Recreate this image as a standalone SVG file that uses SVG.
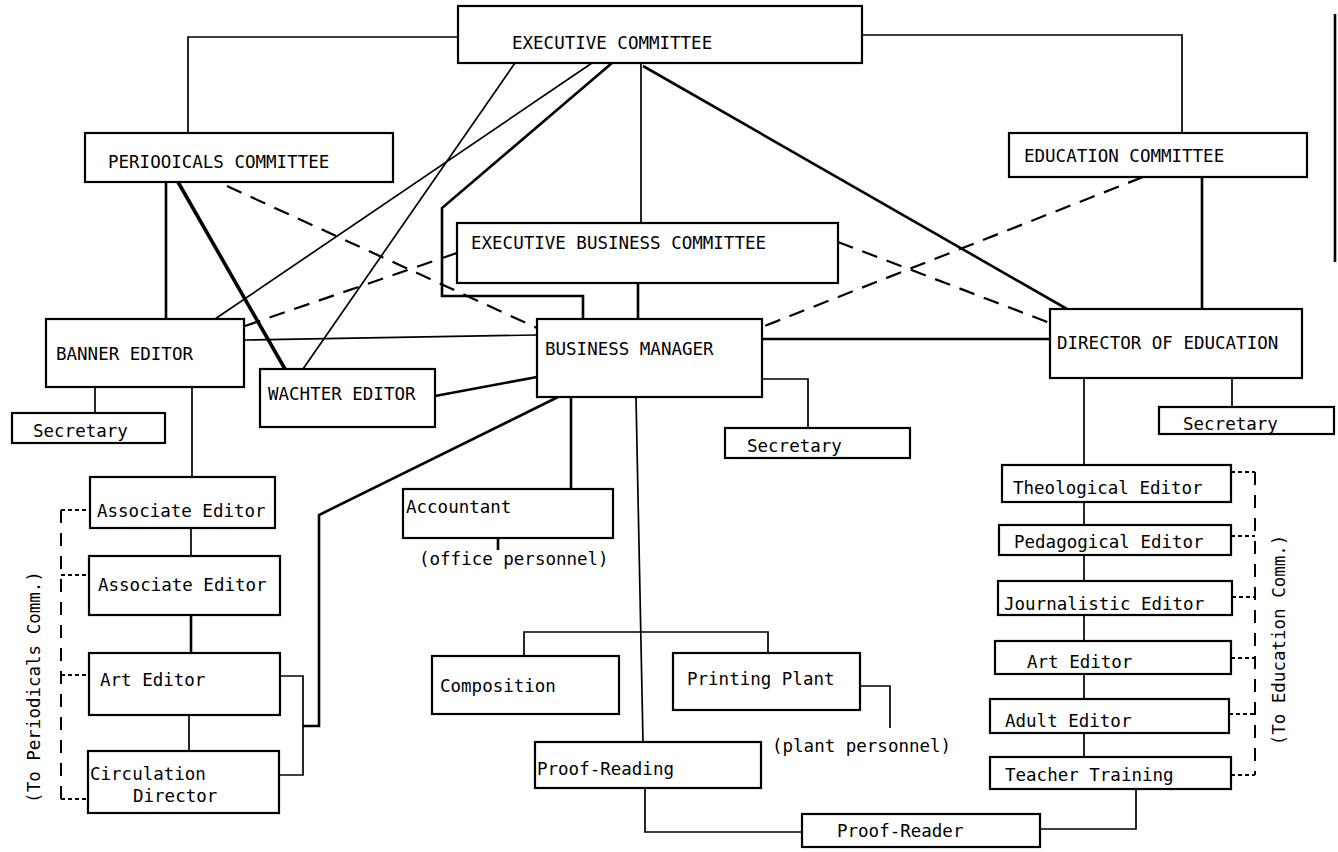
<svg xmlns="http://www.w3.org/2000/svg" width="1338" height="852" viewBox="0 0 1338 852">
<style>
  .bg { fill: #ffffff; }
  .box { fill: #ffffff; stroke: #000; stroke-width: 2.2; }
  .t { font-family: "DejaVu Sans Mono", "Liberation Mono", monospace; font-size: 17.5px; fill: #000; }
  .c { fill: none; stroke: #000; stroke-width: 1.7; }
  .thick { stroke-width: 2.6; }
  .thicker { stroke-width: 3.6; }
  .dash { stroke-dasharray: 16 10; stroke-width: 2.2; }
  .vdash { stroke-dasharray: 13 10; stroke-width: 2; }
  .dot { stroke-dasharray: 4 3; stroke-width: 1.8; }
</style>
<rect class="bg" x="0" y="0" width="1338" height="852"/>

<g id="connectors">
  <path class="c" d="M458,37 H188 V133"/>
  <path class="c" d="M862,35 H1182 V133"/>
  <path class="c thick" d="M1202,177 V309"/>
  <path class="c" d="M641,63 V223"/>
  <path class="c thick" d="M638,283 V319"/>
  <path class="c thick" d="M643,66 L1067,309"/>
  <path class="c" d="M515,63 L303,369"/>
  <path class="c" d="M592,63 L215,319"/>
  <path class="c thick" d="M612,63 L442,208 V296 H583 V319"/>
  <path class="c thick" d="M166,182 V319"/>
  <path class="c thicker" d="M178,182 L285,369"/>
  <path class="c dash" d="M227,186 L537,328"/>
  <path class="c dash" d="M245,326 L457,253"/>
  <path class="c dash" d="M838,242 L1050,323"/>
  <path class="c dash" d="M1143,177 L762,327"/>
  <path class="c" d="M244,340 L537,335"/>
  <path class="c thick" d="M762,339 H1050"/>
  <path class="c thick" d="M435,396 L537,377"/>
  <path class="c" d="M762,379 H808 V428"/>
  <path class="c thick" d="M571,397 V489"/>
  <path class="c thick" d="M498,538 V550"/>
  <path class="c" d="M636,397 L643,742"/>
  <path class="c" d="M524,656 V632 H768 V653"/>
  <path class="c" d="M860,686 H890 V728"/>
  <path class="c" d="M645,788 V832 H802"/>
  <path class="c" d="M1136,789 V829 H1040"/>
  <path class="c" d="M95,387 V413"/>
  <path class="c" d="M192,387 V477"/>
  <path class="c" d="M191,528 V556"/>
  <path class="c thick" d="M191,615 V653"/>
  <path class="c" d="M189,715 V751"/>
  <path class="c" d="M280,676 H303 V775 H279"/>
  <path class="c thick" d="M303,726 H319 V515 L558,397"/>
  <path class="c" d="M1232,378 V407"/>
  <path class="c" d="M1084,378 V465 M1084,502 V525 M1084,555 V581 M1084,615 V641 M1084,674 V699 M1084,733 V757"/>
  <path class="c vdash" d="M1255,472 V775"/>
  <path class="c dot" d="M1231,472 H1255 M1231,536 H1255 M1232,597 H1255 M1231,658 H1255 M1229,714 H1255 M1231,775 H1255"/>
  <path class="c vdash" d="M61,510 V800"/>
  <path class="c dot" d="M61,510 H90 M61,575 H89 M61,675 H89 M61,799 H88"/>
  <path class="c thick" d="M1335,14 V262"/>
</g>

<g id="executive-committee"><rect class="box" x="458" y="6" width="404" height="57"/><text class="t" x="512" y="49">EXECUTIVE COMMITTEE</text></g>
<g id="periodicals-committee"><rect class="box" x="85" y="133" width="308" height="49"/><text class="t" x="108" y="168">PERIOOICALS COMMITTEE</text></g>
<g id="education-committee"><rect class="box" x="1009" y="133" width="298" height="44"/><text class="t" x="1024" y="162">EDUCATION COMMITTEE</text></g>
<g id="executive-business-committee"><rect class="box" x="457" y="223" width="381" height="60"/><text class="t" x="471" y="249">EXECUTIVE BUSINESS COMMITTEE</text></g>
<g id="banner-editor"><rect class="box" x="46" y="319" width="198" height="68"/><text class="t" x="56" y="360">BANNER EDITOR</text></g>
<g id="wachter-editor"><rect class="box" x="260" y="369" width="175" height="58"/><text class="t" x="268" y="400">WACHTER EDITOR</text></g>
<g id="business-manager"><rect class="box" x="537" y="319" width="225" height="78"/><text class="t" x="545" y="355">BUSINESS MANAGER</text></g>
<g id="director-of-education"><rect class="box" x="1050" y="309" width="252" height="69"/><text class="t" x="1057" y="349">DIRECTOR OF EDUCATION</text></g>
<g id="secretary-banner"><rect class="box" x="12" y="413" width="153" height="30"/><text class="t" x="33" y="437">Secretary</text></g>
<g id="secretary-business"><rect class="box" x="725" y="428" width="185" height="30"/><text class="t" x="747" y="452">Secretary</text></g>
<g id="secretary-education"><rect class="box" x="1159" y="407" width="175" height="27"/><text class="t" x="1183" y="430">Secretary</text></g>
<g id="associate-editor-1"><rect class="box" x="90" y="477" width="185" height="51"/><text class="t" x="97" y="517">Associate Editor</text></g>
<g id="associate-editor-2"><rect class="box" x="89" y="556" width="191" height="59"/><text class="t" x="98" y="591">Associate Editor</text></g>
<g id="art-editor-periodicals"><rect class="box" x="89" y="653" width="191" height="62"/><text class="t" x="100" y="686">Art Editor</text></g>
<g id="circulation-director"><rect class="box" x="88" y="751" width="191" height="62"/><text class="t" x="90" y="780">Circulation</text><text class="t" x="133" y="802">Director</text></g>
<g id="accountant"><rect class="box" x="403" y="489" width="210" height="49"/><text class="t" x="406" y="513">Accountant</text><text class="t" x="419" y="565">(office personnel)</text></g>
<g id="composition"><rect class="box" x="432" y="656" width="187" height="58"/><text class="t" x="440" y="692">Composition</text></g>
<g id="printing-plant"><rect class="box" x="673" y="653" width="187" height="57"/><text class="t" x="687" y="685">Printing Plant</text><text class="t" x="772" y="752">(plant personnel)</text></g>
<g id="proof-reading"><rect class="box" x="535" y="742" width="226" height="46"/><text class="t" x="537" y="775">Proof-Reading</text></g>
<g id="proof-reader"><rect class="box" x="802" y="814" width="238" height="33"/><text class="t" x="837" y="837">Proof-Reader</text></g>
<g id="theological-editor"><rect class="box" x="1002" y="465" width="229" height="37"/><text class="t" x="1013" y="494">Theological Editor</text></g>
<g id="pedagogical-editor"><rect class="box" x="999" y="525" width="232" height="30"/><text class="t" x="1014" y="548">Pedagogical Editor</text></g>
<g id="journalistic-editor"><rect class="box" x="998" y="581" width="234" height="34"/><text class="t" x="1004" y="610">Journalistic Editor</text></g>
<g id="art-editor-education"><rect class="box" x="995" y="641" width="236" height="33"/><text class="t" x="1027" y="668">Art Editor</text></g>
<g id="adult-editor"><rect class="box" x="990" y="699" width="239" height="34"/><text class="t" x="1005" y="727">Adult Editor</text></g>
<g id="teacher-training"><rect class="box" x="990" y="757" width="241" height="32"/><text class="t" x="1005" y="781">Teacher Training</text></g>

<g id="side-labels">
  <text class="t" text-anchor="middle" transform="translate(40,687) rotate(-90)">(To Periodicals Comm.)</text>
  <text class="t" text-anchor="middle" transform="translate(1285,640) rotate(-90)">(To Education Comm.)</text>
</g>
</svg>
